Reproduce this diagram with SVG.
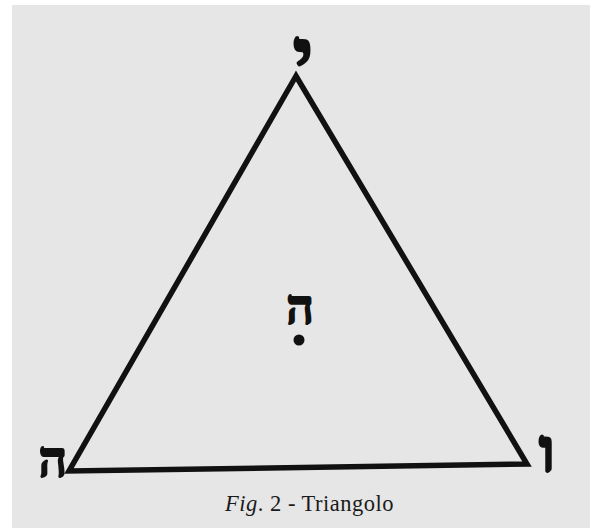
<svg xmlns="http://www.w3.org/2000/svg" width="590" height="528" viewBox="0 0 590 528">
<style>
.heb{font-family:"Liberation Serif","DejaVu Serif",serif;font-weight:bold;fill:#111;stroke:#111;stroke-linejoin:round;text-anchor:middle}
.cap{font-family:"Liberation Serif",serif;font-size:22.5px;letter-spacing:0.5px;fill:#1a1a1a}
</style>
<rect x="0" y="0" width="590" height="528" fill="#ffffff"/>
<rect x="12" y="5" width="578" height="523" fill="#e6e6e6"/>
<g id="connectors">
<polygon points="296,76 69,471 527,464" fill="none" stroke="#111" stroke-width="5.5" stroke-linejoin="miter"/>
</g>
<g id="node-top"><text class="heb" x="303" y="84" font-size="80" stroke-width="2">י</text></g>
<g id="node-center"><text class="heb" x="300" y="324" font-size="48" stroke-width="2">ה</text><circle cx="299" cy="340" r="5.5" fill="#111"/></g>
<g id="node-left"><text class="heb" x="53" y="477" font-size="50" stroke-width="2">ה</text></g>
<g id="node-right"><text class="heb" x="547" y="471" font-size="60" stroke-width="3">ו</text></g>
<g id="caption"><text class="cap" x="225" y="511"><tspan font-style="italic">Fig</tspan>. 2 - Triangolo</text></g>
</svg>
